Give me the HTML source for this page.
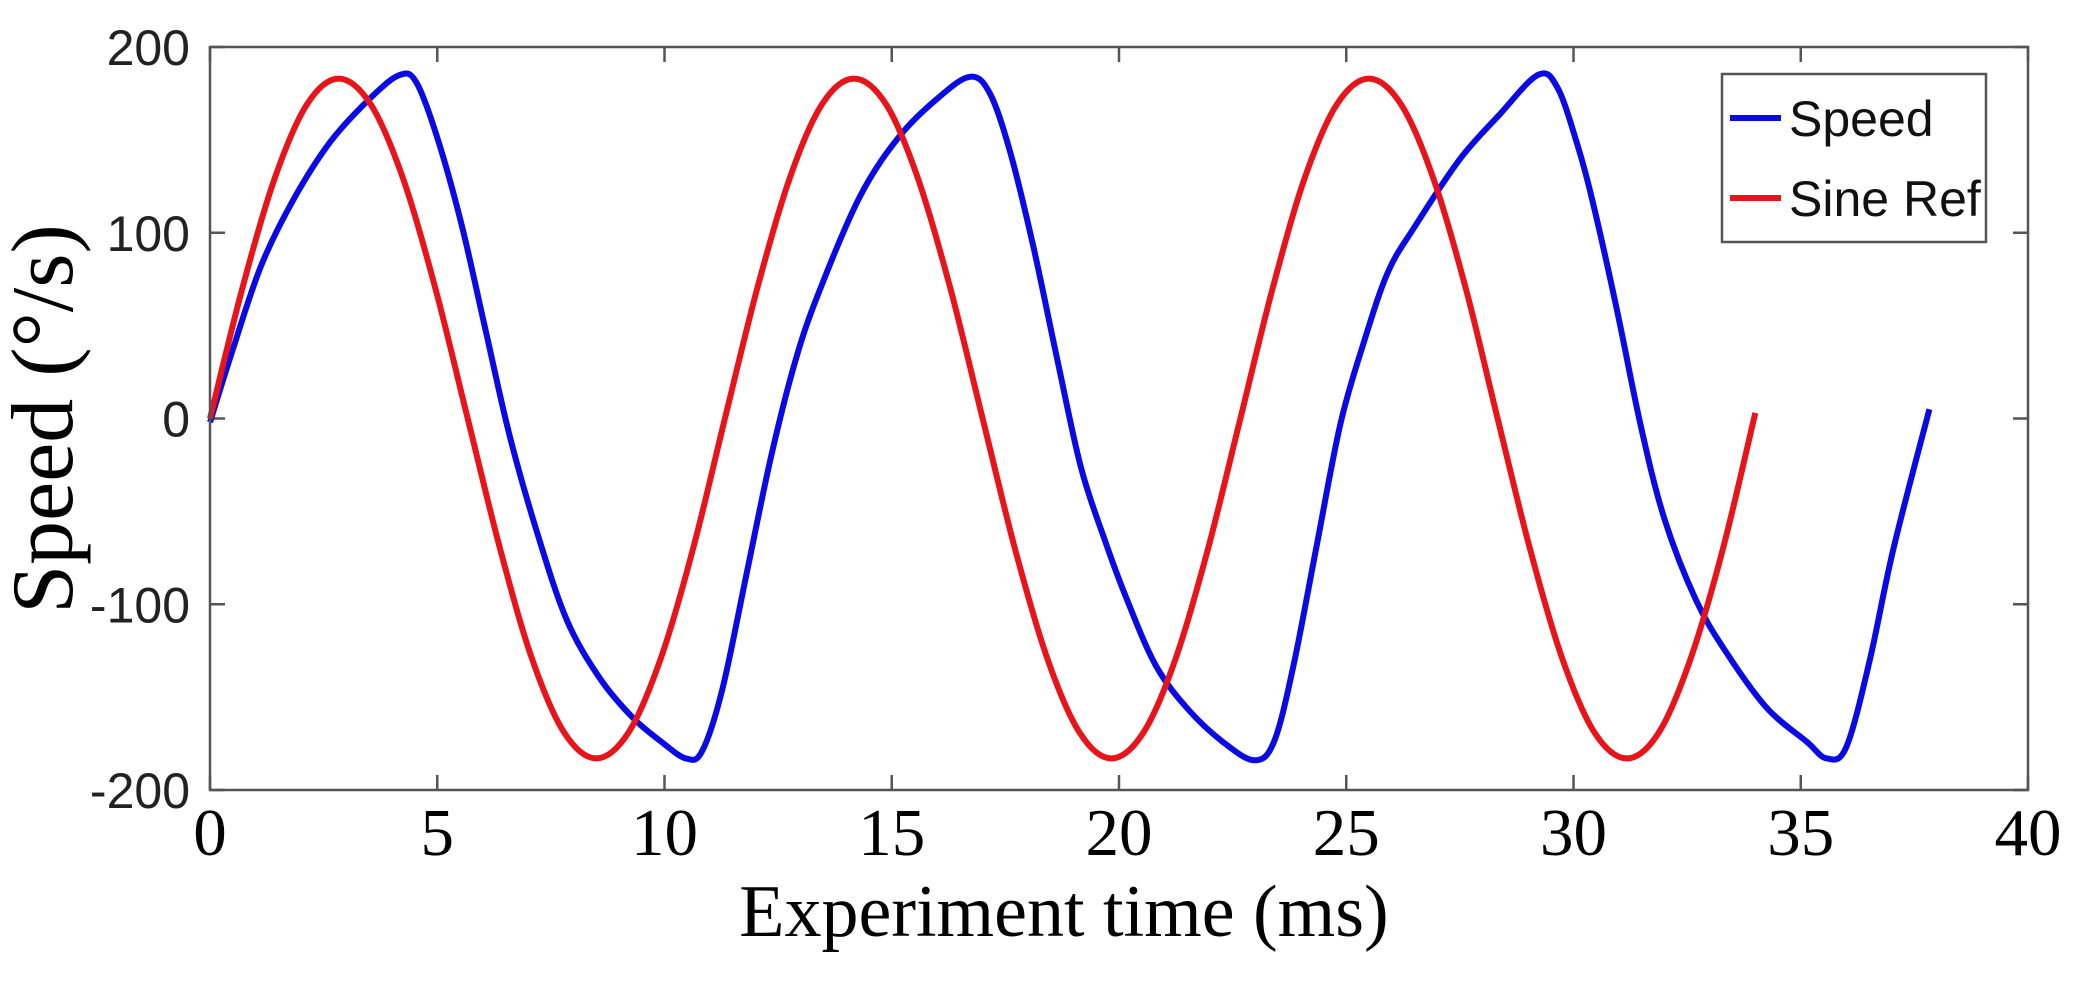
<!DOCTYPE html>
<html><head><meta charset="utf-8"><style>
html,body{margin:0;padding:0;background:#fff;}
svg{display:block;}
</style></head><body>
<svg id="chart" width="2083" height="981" xmlns="http://www.w3.org/2000/svg">
<rect x="0" y="0" width="2083" height="981" fill="#fff"/>
<g id="ticks"></g>
<g id="series"></g>
<rect x="210" y="47" width="1818" height="743" fill="none" stroke="#555" stroke-width="2.5"/>
<g>
<rect x="1722" y="74" width="264" height="168" fill="#fff" stroke="#555" stroke-width="2.5"/>
<line x1="1730" y1="118" x2="1781" y2="118" stroke="#0a0ae6" stroke-width="6"/>
<text x="1789" y="136" font-family="Liberation Sans, sans-serif" font-size="50" fill="#111">Speed</text>
<line x1="1730" y1="198" x2="1781" y2="198" stroke="#e8141a" stroke-width="6"/>
<text x="1789" y="216" font-family="Liberation Sans, sans-serif" font-size="50" fill="#111">Sine Ref</text>
</g>
<text x="1064" y="936" text-anchor="middle" font-family="Liberation Serif, serif" font-size="74" fill="#000">Experiment time (ms)</text>
<text transform="translate(72,419) rotate(-90)" text-anchor="middle" font-family="Liberation Serif, serif" font-size="88" fill="#000">Speed (°/s)</text>
</svg>
<script>
const xTicks = [0,5,10,15,20,25,30,35,40];
const yTicks = [-200,-100,0,100,200];
const sineT = [0,0.71,1.42,2.13,2.83,3.54,4.25,4.96,5.67,6.38,7.08,7.79,8.5,9.21,9.92,10.63,11.33,12.04,12.75,13.46,14.17,14.88,15.58,16.29,17,17.71,18.42,19.13,19.83,20.54,21.25,21.96,22.67,23.38,24.08,24.79,25.5,26.21,26.92,27.63,28.33,29.04,29.75,30.46,31.17,31.88,32.58,33.29,34];
const sineV = [0,70,129,169,183,169,129,70,0,-70,-129,-169,-183,-169,-129,-70,0,70,129,169,183,169,129,70,0,-70,-129,-169,-183,-169,-129,-70,0,70,129,169,183,169,129,70,0,-70,-129,-169,-183,-169,-129,-70,3];
const speedT = [0,0.5,1.12,1.84,2.65,3.55,4.18,4.54,4.99,5.53,6.06,6.6,7.23,7.86,8.58,9.3,9.93,10.47,10.83,11.28,11.81,12.35,12.89,13.43,14.31,15.17,16.04,16.73,17.16,17.6,18.12,18.64,19.16,19.68,20.2,20.81,21.5,22.28,22.98,23.41,23.84,24.36,24.88,25.4,25.92,26.5,27.48,28.35,29.22,29.65,30.09,30.43,30.96,31.48,32,32.7,33.39,34.26,35.13,35.57,36,36.52,37.04,37.83];
const speedV = [-2,37,82,118,149,173,185,181,152,105,48,-10,-64,-109,-140,-161,-174,-183,-179,-145,-83,-20,32,70,120,152,173,184,175,144,92,32,-26,-65,-99,-133,-156,-174,-184,-174,-133,-67,-2,42,79,103,139,163,185,178,147,116,58,-4,-54,-98,-127,-156,-174,-183,-177,-130,-70,5];

const X0=210, X1=2028, Y0=790, Y1=47;
function sx(t){return X0+(t-0)/(40-0)*(X1-X0);}
function sy(v){return Y0-(v+200)/400*(Y0-Y1);}
const NS="http://www.w3.org/2000/svg";
const tg=document.getElementById('ticks');
xTicks.forEach(t=>{
  const x=sx(t);
  const l1=document.createElementNS(NS,'line');
  l1.setAttribute('x1',x);l1.setAttribute('x2',x);l1.setAttribute('y1',Y0);l1.setAttribute('y2',Y0-15);
  l1.setAttribute('stroke','#555');l1.setAttribute('stroke-width','2.5');
  
  
  tg.appendChild(l1);
  const l2=document.createElementNS(NS,'line');
  l2.setAttribute('x1',x);l2.setAttribute('x2',x);l2.setAttribute('y1',Y1);l2.setAttribute('y2',Y1+15);
  l2.setAttribute('stroke','#555');l2.setAttribute('stroke-width','2.5');
  
  
  tg.appendChild(l2);
  const tx=document.createElementNS(NS,'text');
  tx.setAttribute('x',x);tx.setAttribute('y',855);tx.setAttribute('text-anchor','middle');
  tx.setAttribute('font-family','Liberation Serif, serif');tx.setAttribute('font-size','67');
  tx.textContent=t;
  
  
  tg.appendChild(tx);
});
yTicks.forEach(v=>{
  const y=sy(v);
  const l1=document.createElementNS(NS,'line');
  l1.setAttribute('x1',X0);l1.setAttribute('x2',X0+15);l1.setAttribute('y1',y);l1.setAttribute('y2',y);
  l1.setAttribute('stroke','#555');l1.setAttribute('stroke-width','2.5');
  
  
  tg.appendChild(l1);
  const l2=document.createElementNS(NS,'line');
  l2.setAttribute('x1',X1);l2.setAttribute('x2',X1-15);l2.setAttribute('y1',y);l2.setAttribute('y2',y);
  l2.setAttribute('stroke','#555');l2.setAttribute('stroke-width','2.5');
  
  
  tg.appendChild(l2);
  const tx=document.createElementNS(NS,'text');
  tx.setAttribute('x',190);tx.setAttribute('y',y+18);tx.setAttribute('text-anchor','end');
  tx.setAttribute('font-family','Liberation Sans, sans-serif');tx.setAttribute('font-size','50');tx.setAttribute('fill','#222');
  tx.textContent=v;
  
  
  tg.appendChild(tx);
});
function pathD(ts,vs){
  const p=ts.map((t,i)=>[sx(t),sy(vs[i])]);
  let d='M'+p[0][0].toFixed(1)+','+p[0][1].toFixed(1);
  for(let i=0;i<p.length-1;i++){
    const a=p[Math.max(0,i-1)],b=p[i],c=p[i+1],e=p[Math.min(p.length-1,i+2)];
    const c1=[b[0]+(c[0]-a[0])/6,b[1]+(c[1]-a[1])/6];
    const c2=[c[0]-(e[0]-b[0])/6,c[1]-(e[1]-b[1])/6];
    d+=' C'+c1[0].toFixed(1)+','+c1[1].toFixed(1)+' '+c2[0].toFixed(1)+','+c2[1].toFixed(1)+' '+c[0].toFixed(1)+','+c[1].toFixed(1);
  }
  return d;
}
const sg=document.getElementById('series');
const sp=document.createElementNS(NS,'path');
sp.setAttribute('d',pathD(speedT,speedV));
sp.setAttribute('fill','none');sp.setAttribute('stroke','#0a0ae6');sp.setAttribute('stroke-width','6');sp.setAttribute('stroke-linejoin','round');


sg.appendChild(sp);
const rp=document.createElementNS(NS,'path');
rp.setAttribute('d',pathD(sineT,sineV));
rp.setAttribute('fill','none');rp.setAttribute('stroke','#e8141a');rp.setAttribute('stroke-width','6');rp.setAttribute('stroke-linejoin','round');


sg.appendChild(rp);
</script>
</body></html>
